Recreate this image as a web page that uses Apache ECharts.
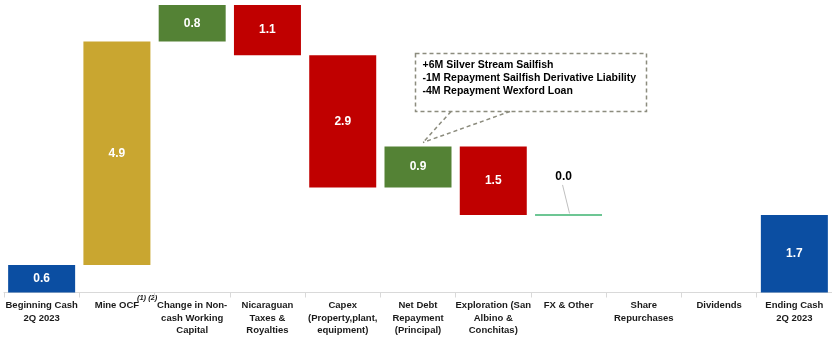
<!DOCTYPE html>
<html>
<head>
<meta charset="utf-8">
<script src="https://cdn.jsdelivr.net/npm/echarts@6/dist/echarts.min.js"></script>
<style>
html,body{margin:0;padding:0;background:#fff;}
#chart{width:832px;height:348px;}
</style>
</head>
<body>
<div id="chart"></div>
<script>
const categories = [
  "Beginning Cash\n2Q 2023",
  "Mine OCF",
  "Change in Non-\ncash Working\nCapital",
  "Nicaraguan\nTaxes &\nRoyalties",
  "Capex\n(Property,plant,\nequipment)",
  "Net Debt\nRepayment\n(Principal)",
  "Exploration (San\nAlbino &\nConchitas)",
  "FX & Other",
  "Share\nRepurchases",
  "Dividends",
  "Ending Cash\n2Q 2023"
];
const values = [0.6, 4.9, 0.8, -1.1, -2.9, 0.9, -1.5, 0.0, null, null, 1.7];
const kinds  = ["total","delta","delta","delta","delta","delta","delta","delta","none","none","total"];
const colors = ["#0B4EA2","#C9A630","#548235","#C00000","#C00000","#548235","#C00000","#3CB371","#fff","#fff","#0B4EA2"];
const calloutLines = [
  "+6M Silver Stream Sailfish",
  "-1M Repayment Sailfish Derivative Liability",
  "-4M Repayment Wexford Loan"
];

// waterfall decomposition
const base = [], height = [], flat = [];
let running = 0;
values.forEach((v, i) => {
  const k = kinds[i];
  if (k === "none" || v === null) { base.push("-"); height.push("-"); return; }
  if (k === "total") { base.push(0); height.push(v); running = v; return; }
  if (v === 0) { base.push("-"); height.push("-"); flat.push([i, running, v]); return; }
  if (v > 0) { base.push(running); height.push(v); running += v; }
  else { running += v; base.push(running); height.push(-v); }
});

const chart = echarts.init(document.getElementById("chart"), null, {renderer: "canvas"});
const font = "'Liberation Sans', Arial, sans-serif";

chart.setOption({
  animation: false,
  grid: {left: 4, top: 5, width: 830, height: 287.5, containLabel: false},
  xAxis: {
    type: "category",
    data: categories,
    axisLine: {lineStyle: {color: "#d9d9d9", width: 1}},
    axisTick: {show: true, length: 5, lineStyle: {color: "#d9d9d9"}},
    axisLabel: {
      interval: 0, margin: 7, color: "#1a1a1a", fontFamily: font,
      fontSize: 9.5, fontWeight: "bold", lineHeight: 12.3, align: "center"
    }
  },
  yAxis: {type: "value", min: 0, max: 6.3, show: false, splitLine: {show: false}},
  series: [
    {
      type: "bar", stack: "w", data: base, barWidth: 67,
      itemStyle: {color: "transparent"}, silent: true
    },
    {
      type: "bar", stack: "w", barWidth: 67,
      data: height.map((h, i) => ({value: h, itemStyle: {color: colors[i]}})),
      label: {
        show: true, position: "inside", color: "#fff", fontFamily: font,
        fontSize: 12, fontWeight: "bold",
        formatter: p => (typeof p.value === "number" ? p.value.toFixed(1) : "")
      }
    },
    {
      type: "custom",
      data: flat,
      renderItem: function (params, api) {
        const p = api.coord([api.value(0), api.value(1)]);
        const w = api.size([1, 0])[0] * 0.89;
        return {
          type: "group",
          children: [
            {type: "line", shape: {x1: p[0] - w / 2, y1: p[1], x2: p[0] + w / 2, y2: p[1]},
             style: {stroke: colors[api.value(0)], lineWidth: 1.5}},
            {type: "line", shape: {x1: p[0] - 6, y1: p[1] - 30, x2: p[0] + 1, y2: p[1] - 1.5},
             style: {stroke: "#bfbfbf", lineWidth: 1}},
            {type: "text", style: {x: p[0] - 5, y: p[1] - 38, text: api.value(2).toFixed(1),
             fill: "#000", font: "bold 12px " + font, textAlign: "center", textVerticalAlign: "middle"}}
          ]
        };
      }
    }
  ]
});

// annotations anchored to data
const netIdx = 5;
const netTop = base[netIdx] + height[netIdx];
const a = chart.convertToPixel({seriesIndex: 1}, [netIdx, netTop]);
const ax = a[0], ay = a[1];
const m = chart.convertToPixel({seriesIndex: 1}, [1, 0]);
const dash = "#8c8c7e";
chart.setOption({
  graphic: [
    {type: "rect", shape: {x: ax - 2.5, y: ay - 93, width: 231, height: 58},
     style: {fill: "#fff", stroke: dash, lineWidth: 1.5, lineDash: [4, 3]}},
    {type: "line", shape: {x1: ax + 33, y1: ay - 35, x2: ax + 5, y2: ay - 4},
     style: {stroke: dash, lineWidth: 1.5, lineDash: [4, 3]}},
    {type: "line", shape: {x1: ax + 92, y1: ay - 35, x2: ax + 5, y2: ay - 4},
     style: {stroke: dash, lineWidth: 1.5, lineDash: [4, 3]}},
    {type: "text", style: {x: ax + 4.5, y: ay - 68.5, text: calloutLines.join("\n"),
     fill: "#000", font: "bold 10.5px " + font, lineHeight: 13.3, textVerticalAlign: "middle"}},
    {type: "text", style: {x: m[0] + 20, y: m[1] + 5.5, text: "(1) (2)",
     fill: "#1a1a1a", font: "italic bold 7.5px " + font, textVerticalAlign: "middle"}}
  ]
});
</script>
</body>
</html>
